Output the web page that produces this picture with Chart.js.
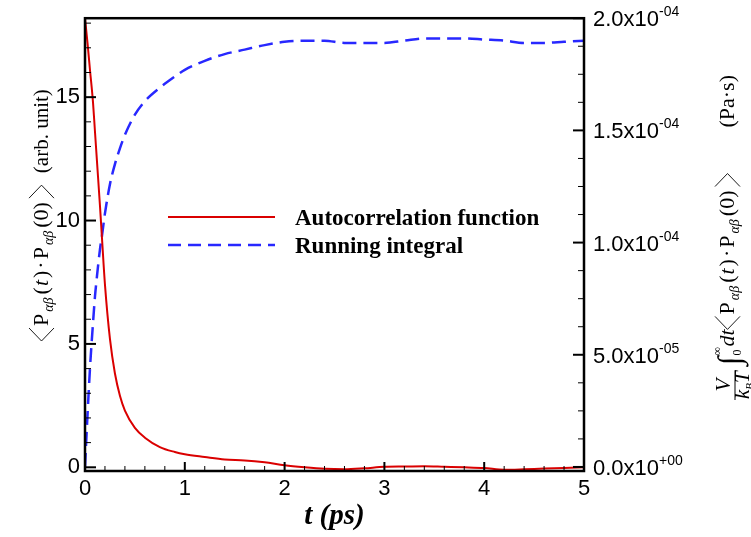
<!DOCTYPE html>
<html>
<head>
<meta charset="utf-8">
<script src="https://cdn.jsdelivr.net/npm/chart.js@4.4.0/dist/chart.umd.min.js"></script>
<style>
  html, body { margin: 0; padding: 0; background: #fff; }
  #wrap { width: 751px; height: 537px; position: relative; }
</style>
</head>
<body>
<div id="wrap"><canvas id="chart" width="751" height="537"></canvas></div>
<script>
// time axis (ps)
const times = [0, 0.025, 0.05, 0.08, 0.1, 0.12, 0.15, 0.17, 0.2, 0.25,
  0.3, 0.35, 0.4, 0.5, 0.6, 0.75, 0.9, 1.0, 1.2, 1.4,
  1.6, 1.8, 2.0, 2.2, 2.4, 2.6, 2.8, 3.0, 3.2, 3.4,
  3.6, 3.8, 4.0, 4.2, 4.4, 4.6, 4.8, 5.0];

// <P(t).P(0)>, arb. unit (left axis)
const autocorr = [18.2, 17.2, 16.1, 14.8, 13.6, 12.4, 10.6, 9.3, 7.4, 5.2,
  3.8, 2.9, 2.3, 1.6, 1.2, 0.82, 0.62, 0.53, 0.42, 0.32,
  0.28, 0.2, 0.08, 0.0, -0.06, -0.08, -0.04, 0.02, 0.03, 0.04,
  0.02, 0.0, -0.03, -0.1, -0.08, -0.05, -0.03, 0.0];

// running integral, Pa.s (right axis)
const runningInt = [0, 0.23e-4, 0.44e-4, 0.64e-4, 0.76e-4, 0.85e-4, 0.97e-4, 1.03e-4, 1.13e-4, 1.26e-4,
  1.35e-4, 1.42e-4, 1.48e-4, 1.57e-4, 1.63e-4, 1.69e-4, 1.74e-4, 1.77e-4, 1.81e-4, 1.84e-4,
  1.86e-4, 1.88e-4, 1.895e-4, 1.9e-4, 1.9e-4, 1.89e-4, 1.89e-4, 1.89e-4, 1.9e-4, 1.91e-4,
  1.91e-4, 1.91e-4, 1.905e-4, 1.9e-4, 1.89e-4, 1.89e-4, 1.895e-4, 1.9e-4];

const xTicks = [0, 1, 2, 3, 4, 5];
const leftTicks = [0, 5, 10, 15];
const rightTicks = [0, 0.5e-4, 1.0e-4, 1.5e-4, 2.0e-4];
const rightMant = ['0.0', '5.0', '1.0', '1.5', '2.0'];
const rightExp = ['+00', '-05', '-04', '-04', '-04'];
const seriesNames = ['Autocorrelation function', 'Running integral'];

const RED = 'rgb(218,0,0)';
const BLUE = 'rgb(40,40,255)';
const SERIF = '"Liberation Serif", "Times New Roman", serif';
const SANS = '"Liberation Sans", Arial, sans-serif';

// draws a run of math-ish pieces rotated -90deg, starting at (x, y) on screen going up
function drawRotated(ctx, x, y, pieces) {
  ctx.save();
  ctx.translate(x, y);
  ctx.rotate(-Math.PI / 2);
  ctx.fillStyle = '#000';
  ctx.strokeStyle = '#000';
  ctx.textBaseline = 'alphabetic';
  let px = 0;
  pieces.forEach(p => {
    if (p.gap) { px += p.gap; return; }
    if (p.bracket) {
      const w = p.w || 10;
      ctx.lineWidth = 0.9;
      ctx.beginPath();
      if (p.bracket === 'l') {
        ctx.moveTo(px + w, p.top); ctx.lineTo(px, (p.top + p.bot) / 2); ctx.lineTo(px + w, p.bot);
      } else {
        ctx.moveTo(px, p.top); ctx.lineTo(px + w, (p.top + p.bot) / 2); ctx.lineTo(px, p.bot);
      }
      ctx.stroke();
      px += w + 2;
      return;
    }
    if (p.frac) {
      ctx.font = p.frac.font;
      const nw = ctx.measureText(p.frac.num).width;
      let dw = 0;
      p.frac.den.forEach(d => { ctx.font = d.font; dw += ctx.measureText(d.t).width; });
      const w = Math.max(nw, dw) + 2;
      ctx.font = p.frac.font;
      ctx.fillText(p.frac.num, px + (w - nw) / 2, p.frac.numY);
      ctx.lineWidth = 1;
      ctx.beginPath(); ctx.moveTo(px, p.frac.barY); ctx.lineTo(px + w, p.frac.barY); ctx.stroke();
      let dx = px + (w - dw) / 2;
      p.frac.den.forEach(d => {
        ctx.font = d.font;
        ctx.fillText(d.t, dx, p.frac.denY + (d.dy || 0));
        dx += ctx.measureText(d.t).width;
      });
      px += w + 2;
      return;
    }
    ctx.font = p.font;
    ctx.fillText(p.t, px, p.dy || 0);
    if (!p.noAdvance) px += ctx.measureText(p.t).width;
  });
  ctx.restore();
}

const rm = '22px ' + SERIF;
const it = 'italic 22px ' + SERIF;
const sub = 'italic 14px ' + SERIF;
const corrPieces = [
  { bracket: 'l', top: -19, bot: 6, w: 13 },
  { t: 'P', font: rm }, { gap: 2 }, { t: '\u03b1\u03b2', font: sub, dy: 5 }, { gap: 3 },
  { t: '(', font: rm }, { gap: 1 }, { t: 't', font: it }, { gap: 2 }, { t: ')', font: rm },
  { gap: 2 }, { t: '\u00b7', font: rm }, { gap: 2 },
  { t: 'P', font: rm }, { gap: 2 }, { t: '\u03b1\u03b2', font: sub, dy: 5 }, { gap: 3 },
  { t: '(0)', font: rm },
  { gap: 4 },
  { bracket: 'r', top: -19, bot: 6, w: 13 }
];

const annotatePlugin = {
  id: 'annotate',
  afterDraw(chart) {
    const { ctx, chartArea: a, scales } = chart;
    const xs = scales.x, yl = scales.y, yr = scales.y2;
    ctx.save();
    ctx.strokeStyle = '#000';

    // x ticks (inward)
    for (let v = 0; v <= 5.0001; v += 0.2) {
      const px = xs.getPixelForValue(v);
      const major = Math.abs(v - Math.round(v)) < 1e-6;
      ctx.lineWidth = major ? 2 : 1;
      ctx.beginPath(); ctx.moveTo(px, a.bottom); ctx.lineTo(px, a.bottom - (major ? 9 : 5)); ctx.stroke();
    }
    // left ticks
    for (let v = 0; v <= 18; v += 1) {
      const py = yl.getPixelForValue(v);
      const major = v % 5 === 0;
      ctx.lineWidth = major ? 2 : 1;
      ctx.beginPath(); ctx.moveTo(a.left, py); ctx.lineTo(a.left + (major ? 11 : 6), py); ctx.stroke();
    }
    // right ticks
    for (let k = 0; k <= 16; k++) {
      const v = k * 1.25e-5;
      const py = yr.getPixelForValue(v);
      const major = k % 4 === 0;
      ctx.lineWidth = major ? 2 : 1;
      ctx.beginPath(); ctx.moveTo(a.right, py); ctx.lineTo(a.right - (major ? 11 : 6), py); ctx.stroke();
    }
    // right tick labels with superscript exponent
    ctx.fillStyle = '#000';
    ctx.textBaseline = 'alphabetic';
    rightTicks.forEach((v, i) => {
      const py = yr.getPixelForValue(v);
      ctx.font = '22px ' + SANS;
      const s = rightMant[i] + 'x10';
      ctx.fillText(s, a.right + 9, py + 8);
      const w = ctx.measureText(s).width;
      ctx.font = '14px ' + SANS;
      ctx.fillText(rightExp[i], a.right + 9 + w, py - 2);
    });

    // frame
    ctx.lineWidth = 2.5;
    ctx.strokeRect(a.left, a.top, a.right - a.left, a.bottom - a.top);

    // legend
    ctx.lineWidth = 2;
    ctx.strokeStyle = RED;
    ctx.beginPath(); ctx.moveTo(168, 217); ctx.lineTo(275, 217); ctx.stroke();
    ctx.strokeStyle = BLUE;
    ctx.lineWidth = 2.5;
    ctx.setLineDash([13, 7]);
    ctx.beginPath(); ctx.moveTo(168, 245); ctx.lineTo(275, 245); ctx.stroke();
    ctx.setLineDash([]);
    ctx.fillStyle = '#000';
    ctx.font = 'bold 23px ' + SERIF;
    ctx.fillText(seriesNames[0], 295, 225);
    ctx.fillText(seriesNames[1], 295, 253);

    // x title
    ctx.font = 'bold italic 29px ' + SERIF;
    ctx.textAlign = 'center';
    ctx.fillText('t (ps)', xs.getPixelForValue(2.5), 524);
    ctx.textAlign = 'left';
    ctx.restore();

    // left title
    drawRotated(ctx, 48, 341, corrPieces.concat([
      { gap: 10 }, { t: '(arb. unit)', font: '21px ' + SERIF }
    ]));

    // right title
    drawRotated(ctx, 734, 400, [
      { frac: { font: 'italic 21px ' + SERIF, num: 'V', numY: -4, barY: 1,
        den: [{ t: 'k', font: 'italic 21px ' + SERIF }, { t: 'B', font: 'italic 11px ' + SERIF, dy: 4 },
          { t: 'T', font: 'italic 21px ' + SERIF }],
        denY: 15 } },
      { gap: 3 },
      { t: '\u222b', font: 'italic 32px ' + SERIF, dy: 6 },
      { gap: 1 },
      { t: '\u221e', font: '12px ' + SERIF, dy: -13, noAdvance: true },
      { t: '0', font: '12px ' + SERIF, dy: 7 },
      { gap: 3 },
      { t: 'dt', font: it }
    ].concat(corrPieces, [
      { gap: 44 }, { t: '(Pa\u00b7s)', font: rm }
    ]));
  }
};

const ctx = document.getElementById('chart');
new Chart(ctx, {
  type: 'line',
  data: {
    datasets: [{
      label: seriesNames[0],
      data: times.map((t, i) => ({ x: t, y: autocorr[i] })),
      yAxisID: 'y',
      borderColor: RED,
      borderWidth: 2,
      pointRadius: 0,
      cubicInterpolationMode: 'monotone'
    }, {
      label: seriesNames[1],
      data: times.map((t, i) => ({ x: t, y: runningInt[i] })),
      yAxisID: 'y2',
      borderColor: BLUE,
      borderWidth: 2.5,
      borderDash: [14, 7],
      pointRadius: 0,
      cubicInterpolationMode: 'monotone'
    }]
  },
  options: {
    responsive: false,
    animation: false,
    events: [],
    layout: { padding: { top: 17, left: 0, right: 0, bottom: 0 } },
    plugins: { legend: { display: false }, tooltip: { enabled: false } },
    scales: {
      x: {
        type: 'linear', min: 0, max: 5,
        grid: { display: false, drawTicks: false },
        border: { display: false },
        afterBuildTicks: s => { s.ticks = xTicks.map(v => ({ value: v })); },
        afterFit: s => { s.height = 66; },
        ticks: { color: '#000', font: { family: SANS, size: 22 }, padding: 5, maxRotation: 0 }
      },
      y: {
        position: 'left', min: -0.15, max: 18.2,
        grid: { display: false, drawTicks: false },
        border: { display: false },
        afterBuildTicks: s => { s.ticks = leftTicks.map(v => ({ value: v })); },
        afterFit: s => { s.width = 85; },
        ticks: { color: '#000', font: { family: SANS, size: 22 }, padding: 5 }
      },
      y2: {
        position: 'right', min: -1.8e-6, max: 2.0e-4,
        grid: { display: false, drawTicks: false },
        border: { display: false },
        afterBuildTicks: s => { s.ticks = rightTicks.map(v => ({ value: v })); },
        afterFit: s => { s.width = 167; },
        ticks: { display: false }
      }
    }
  },
  plugins: [annotatePlugin]
});
</script>
</body>
</html>
